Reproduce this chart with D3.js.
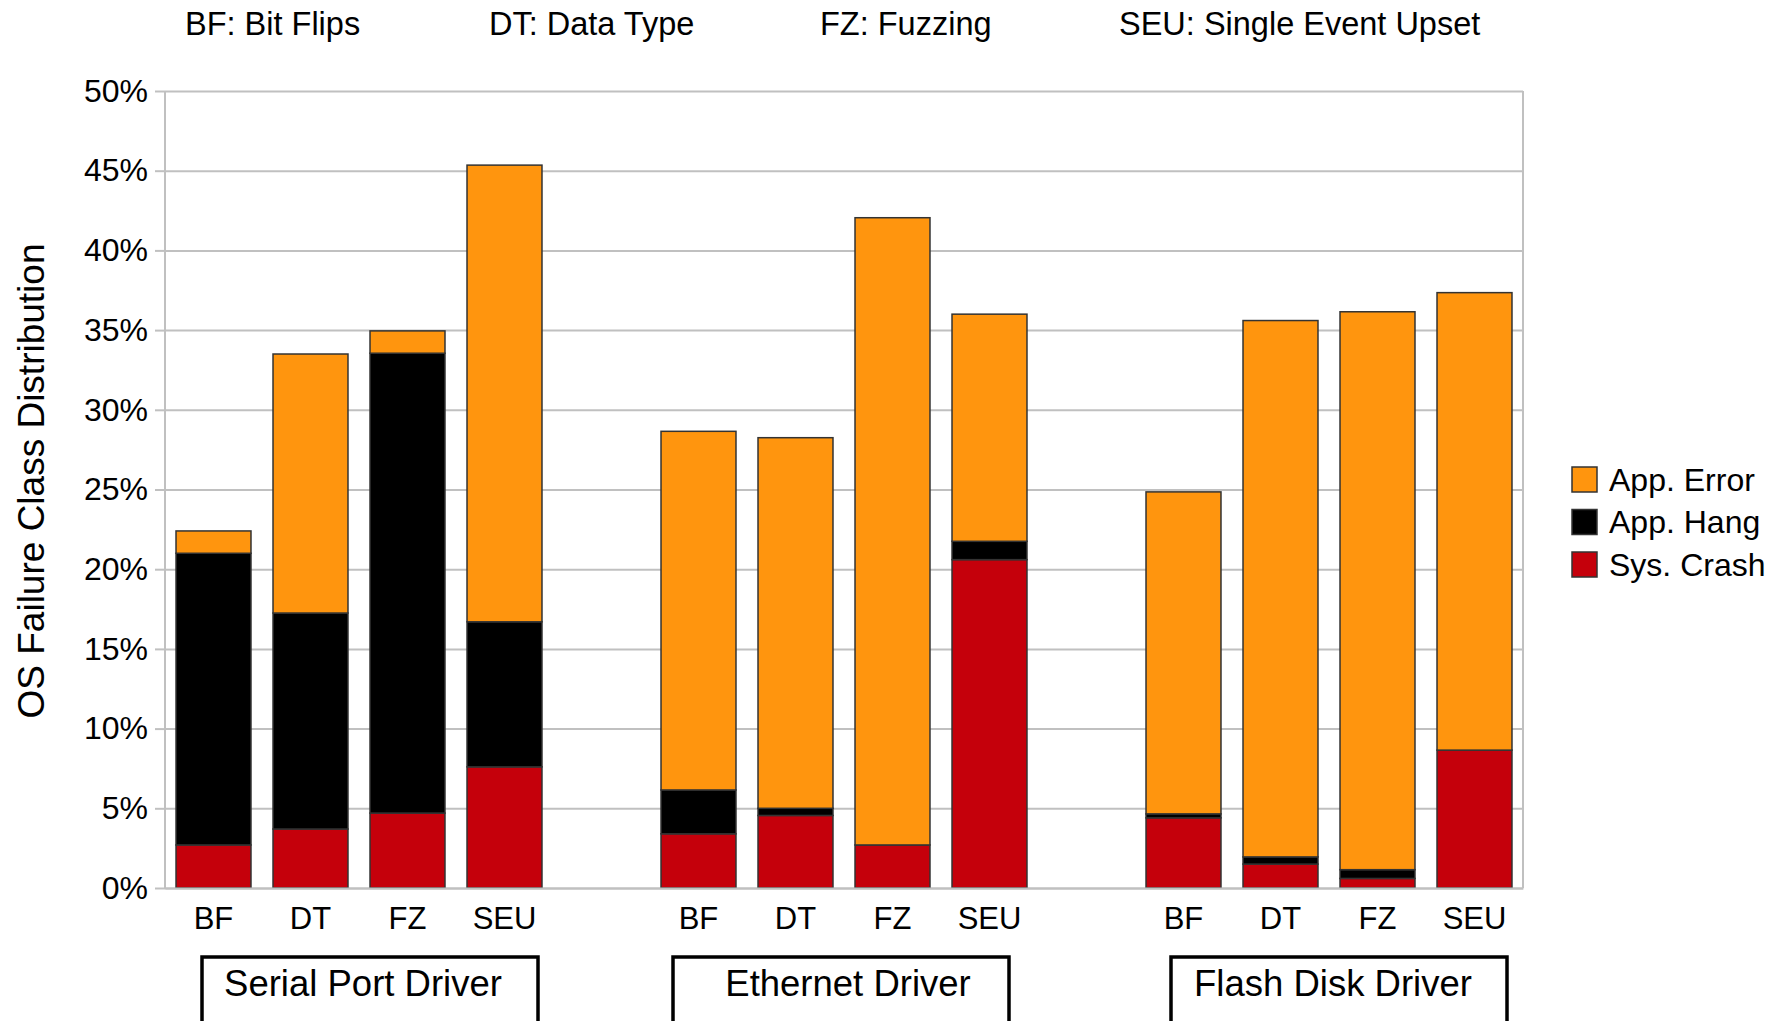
<!DOCTYPE html>
<meta charset="utf-8">
<style>
    body {
        margin: 0;
        background: #fff;
    }

    text {
        font-family: "Liberation Sans", Arial, Helvetica, sans-serif;
        fill: #000;
    }

    .grid line {
        stroke: #c0c0c0;
        stroke-width: 2px;
    }

    .grid .domain {
        display: none;
    }

    .bar {
        stroke: #333;
        stroke-width: 1.5px;
    }
</style>
<script src="https://d3js.org/d3.v7.min.js"></script>
<body>
<svg id="chart"></svg>
<script>
// techniques, drivers and failure classes
var techniques = ["BF", "DT", "FZ", "SEU"];
var drivers = ["Serial Port Driver", "Ethernet Driver", "Flash Disk Driver"];
var classes = ["Sys. Crash", "App. Hang", "App. Error"];
var classColors = ["#c5000b", "#000000", "#ff950e"];
var abbreviations = ["BF: Bit Flips", "DT: Data Type", "FZ: Fuzzing", "SEU: Single Event Upset"];

// values in %, one per driver x technique (serial, ethernet, flash)
var sysCrash = [2.7, 3.7, 4.7, 7.6, 3.4, 4.55, 2.7, 20.6, 4.4, 1.5, 0.6, 8.65];
var appHang = [18.3, 13.55, 28.85, 9.1, 2.75, 0.45, 0, 1.15, 0.25, 0.45, 0.55, 0];
var appError = [1.4, 16.25, 1.4, 28.65, 22.5, 23.25, 39.35, 14.25, 20.2, 33.65, 35.0, 28.7];

var yTicks = [0, 0.05, 0.1, 0.15, 0.2, 0.25, 0.3, 0.35, 0.4, 0.45, 0.5];

var width = 1782,
    height = 1021,
    plot = {left: 165, right: 1523, top: 91, bottom: 888};

var svg = d3.select("#chart")
    .attr("width", width)
    .attr("height", height);

// one row per bar, with an empty slot between drivers
var rows = [];
var slots = [];
drivers.forEach(function (drv, di) {
    if (di > 0) slots.push("gap" + di);
    techniques.forEach(function (t, ti) {
        var i = di * techniques.length + ti;
        var key = drv + "|" + t;
        slots.push(key);
        rows.push({
            key: key, driver: drv, tech: t,
            "Sys. Crash": sysCrash[i] / 100,
            "App. Hang": appHang[i] / 100,
            "App. Error": appError[i] / 100
        });
    });
});

var x = d3.scaleBand()
    .domain(slots)
    .range([plot.left, plot.right])
    .paddingInner(0.227)
    .paddingOuter(0.1135);

var y = d3.scaleLinear()
    .domain([0, 0.5])
    .range([plot.bottom, plot.top]);

var color = d3.scaleOrdinal().domain(classes).range(classColors);

// grid lines
svg.append("g")
    .attr("class", "grid")
    .attr("transform", "translate(" + plot.left + ",0)")
    .call(d3.axisLeft(y).tickValues(yTicks).tickSize(-(plot.right - plot.left)).tickFormat(""));

// frame (left, right)
svg.append("line")
    .attr("x1", plot.left).attr("x2", plot.left)
    .attr("y1", plot.top).attr("y2", plot.bottom)
    .attr("stroke", "#c0c0c0").attr("stroke-width", 2);
svg.append("line")
    .attr("x1", plot.right).attr("x2", plot.right)
    .attr("y1", plot.top).attr("y2", plot.bottom)
    .attr("stroke", "#c0c0c0").attr("stroke-width", 2);

// y axis
var yAxis = svg.append("g")
    .attr("transform", "translate(" + plot.left + ",0)")
    .call(d3.axisLeft(y).tickValues(yTicks).tickFormat(d3.format(".0%")).tickSize(10).tickPadding(7));
yAxis.select(".domain").remove();
yAxis.selectAll("line").attr("stroke", "#c0c0c0").attr("stroke-width", 2);
yAxis.selectAll("text")
    .style("font-size", "32px")
    .style("font-family", "'Liberation Sans', Arial, sans-serif");

// stacked bars
var series = d3.stack().keys(classes)(rows);

svg.append("g")
    .selectAll("g")
    .data(series)
    .enter().append("g")
    .attr("fill", function (d) { return color(d.key); })
    .selectAll("rect")
    .data(function (d) { return d.filter(function (p) { return p[1] - p[0] > 0; }); })
    .enter().append("rect")
    .attr("class", "bar")
    .attr("x", function (d) { return x(d.data.key); })
    .attr("width", x.bandwidth())
    .attr("y", function (d) { return y(d[1]); })
    .attr("height", function (d) { return y(d[0]) - y(d[1]); });

// x axis labels
var xAxis = svg.append("g")
    .attr("transform", "translate(0," + plot.bottom + ")")
    .call(d3.axisBottom(x)
        .tickValues(slots.filter(function (s) { return s.indexOf("gap") !== 0; }))
        .tickFormat(function (s) { return s.split("|")[1]; })
        .tickSize(0).tickPadding(19));
xAxis.select(".domain").attr("stroke", "#c0c0c0").attr("stroke-width", 2);
xAxis.selectAll("text")
    .style("font-size", "31px")
    .style("font-family", "'Liberation Sans', Arial, sans-serif");

// driver boxes (box drawn slightly off the label centre, as in the original)
var boxShift = [7, -7, 6];
var boxes = svg.append("g")
    .selectAll("g")
    .data(drivers)
    .enter().append("g")
    .attr("transform", function (d) {
        var first = x(d + "|" + techniques[0]);
        var last = x(d + "|" + techniques[techniques.length - 1]) + x.bandwidth();
        return "translate(" + ((first + last) / 2 + 4) + ",0)";
    });
boxes.append("rect")
    .attr("x", function (d, i) { return -168 + boxShift[i]; })
    .attr("width", 336)
    .attr("y", 957).attr("height", 90)
    .attr("fill", "none")
    .attr("stroke", "#000")
    .attr("stroke-width", 3.5);
boxes.append("text")
    .attr("y", 996)
    .attr("text-anchor", "middle")
    .style("font-size", "36.5px")
    .text(function (d) { return d; });

// abbreviations at top
var abbrX = [185, 489, 820, 1119];
svg.append("g")
    .selectAll("text")
    .data(abbreviations)
    .enter().append("text")
    .attr("x", function (d, i) { return abbrX[i]; })
    .attr("y", 35)
    .style("font-size", "32.5px")
    .text(function (d) { return d; });

// y axis title
svg.append("text")
    .attr("transform", "translate(31,481) rotate(-90)")
    .attr("dy", "0.35em")
    .attr("text-anchor", "middle")
    .style("font-size", "37px")
    .text("OS Failure Class Distribution");

// legend
var legend = svg.append("g")
    .attr("transform", "translate(1572,467)")
    .selectAll("g")
    .data(classes.slice().reverse())
    .enter().append("g")
    .attr("transform", function (d, i) { return "translate(0," + i * 42.5 + ")"; });
legend.append("rect")
    .attr("width", 25).attr("height", 25)
    .attr("fill", function (d) { return color(d); })
    .attr("stroke", "#333").attr("stroke-width", 1.5);
legend.append("text")
    .attr("x", 37).attr("y", 12.5)
    .attr("dy", "0.35em")
    .style("font-size", "32px")
    .text(function (d) { return d; });
</script>
</body>
